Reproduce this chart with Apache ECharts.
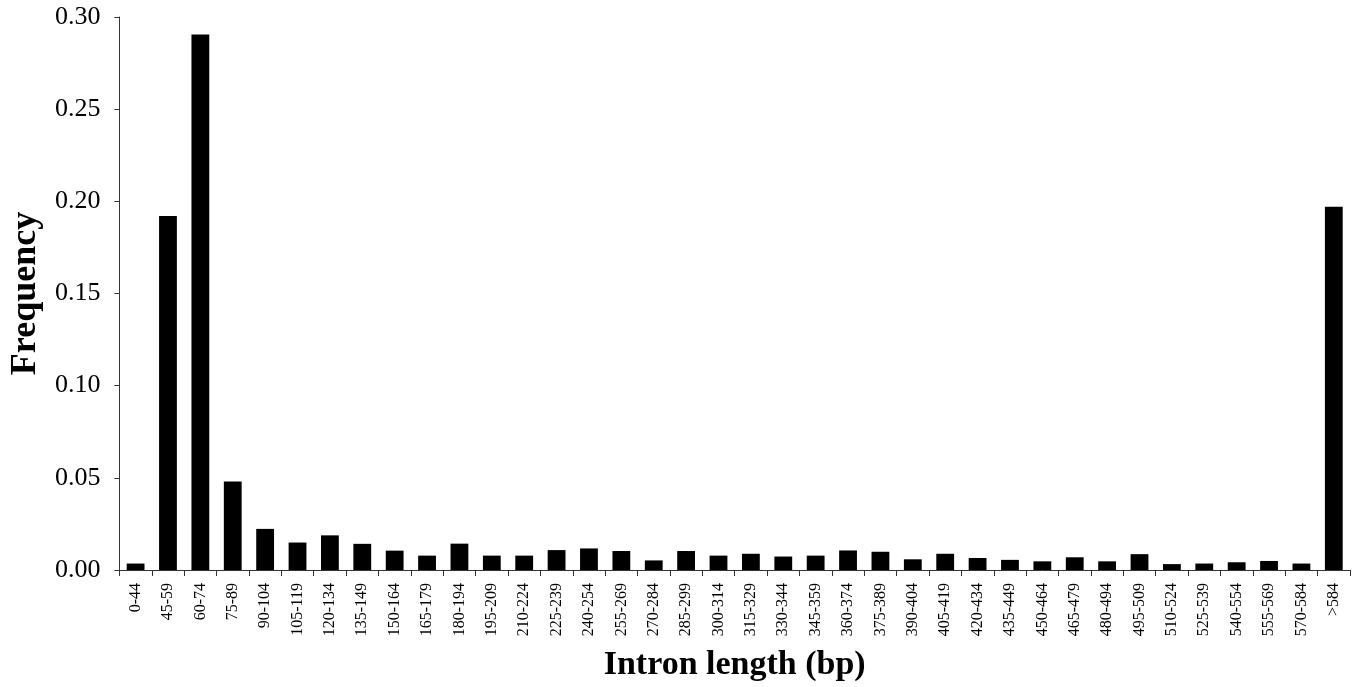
<!DOCTYPE html>
<html>
<head>
<meta charset="utf-8">
<script src="https://cdn.jsdelivr.net/npm/echarts@6/dist/echarts.min.js"></script>
<style>
html,body{margin:0;padding:0;background:#fff;}
#chart{width:1352px;height:687px;}
</style>
</head>
<body>
<div id="chart"></div>
<script>
var categories = ["0-44","45-59","60-74","75-89","90-104","105-119","120-134","135-149","150-164","165-179","180-194","195-209","210-224","225-239","240-254","255-269","270-284","285-299","300-314","315-329","330-344","345-359","360-374","375-389","390-404","405-419","420-434","435-449","450-464","465-479","480-494","495-509","510-524","525-539","540-554","555-569","570-584",">584"];
var frequency = [0.0035,0.192,0.2905,0.048,0.0223,0.0149,0.0188,0.0142,0.0105,0.0078,0.0143,0.0078,0.0078,0.0108,0.0117,0.0103,0.0052,0.0103,0.0078,0.0088,0.0073,0.0078,0.0106,0.0099,0.0058,0.0088,0.0065,0.0055,0.0047,0.0069,0.0047,0.0086,0.0032,0.0035,0.0042,0.0049,0.0035,0.197];
var yTicks = {min:0, max:0.30, interval:0.05};

var chart = echarts.init(document.getElementById('chart'), null, {renderer:'canvas'});
var serif = '"Liberation Serif","Times New Roman",serif';
chart.setOption({
  backgroundColor:'#fff',
  animation:false,
  grid:{left:119, right:2, top:17, bottom:116, containLabel:false},
  xAxis:{
    type:'category',
    data:categories,
    name:'Intron length (bp)',
    nameLocation:'middle',
    nameGap:78,
    nameTextStyle:{fontFamily:serif, fontSize:34, fontWeight:'bold', color:'#000'},
    axisLine:{lineStyle:{color:'#333', width:1}},
    axisTick:{show:true, alignWithLabel:false, length:6, lineStyle:{color:'#333'}},
    axisLabel:{rotate:90, interval:0, margin:13, fontFamily:serif, fontSize:16, color:'#000'}
  },
  yAxis:{
    type:'value',
    min:yTicks.min, max:yTicks.max, interval:yTicks.interval,
    name:'Frequency',
    nameLocation:'middle',
    nameGap:69,
    nameTextStyle:{fontFamily:serif, fontSize:36, fontWeight:'bold', color:'#000'},
    axisLine:{show:true, lineStyle:{color:'#333', width:1}},
    axisTick:{show:true, length:5, lineStyle:{color:'#333'}},
    splitLine:{show:false},
    axisLabel:{margin:19, fontFamily:serif, fontSize:26, color:'#000', formatter:function(v){return v.toFixed(2);}}
  },
  series:[{
    type:'bar',
    data:frequency,
    barCategoryGap:'45%',
    itemStyle:{color:'#000'}
  }]
});
</script>
</body>
</html>
